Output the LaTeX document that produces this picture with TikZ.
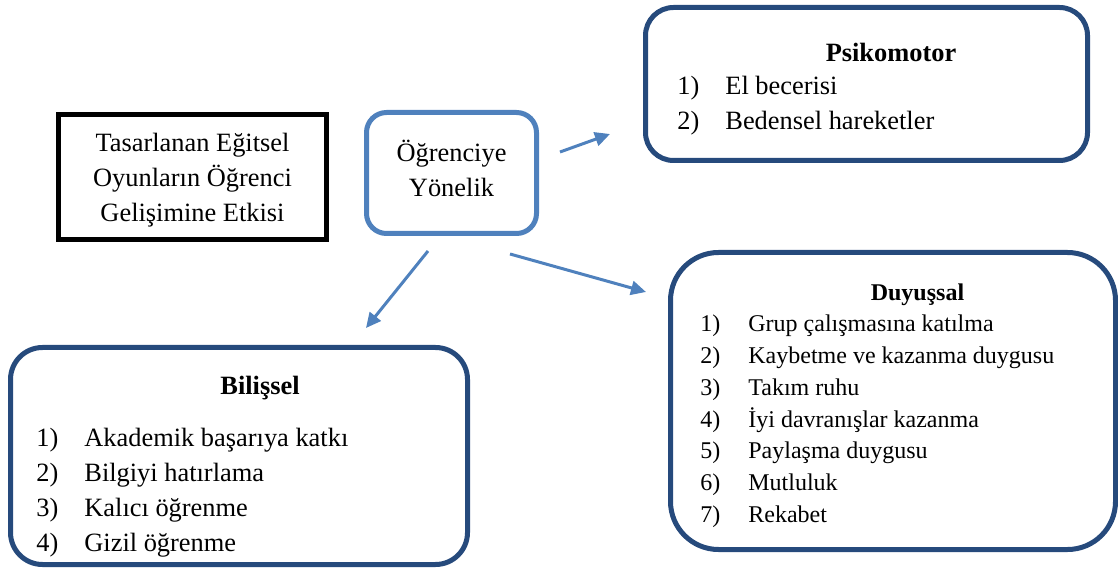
\documentclass[tikz,border=0pt]{standalone}
\usepackage{fontspec}
\setmainfont{Liberation Serif}
\usetikzlibrary{arrows.meta}
\definecolor{koyumavi}{RGB}{38,74,124}
\definecolor{acikmavi}{RGB}{79,129,189}
\newcommand{\sira}[1]{\makebox[24pt][l]{#1}}

\begin{document}
\begin{tikzpicture}[x=0.5pt, y=-0.5pt,
        kutu/.style={draw=koyumavi, line width=2.5pt, inner sep=0pt, outer sep=0pt},
        ok/.style={draw=acikmavi, line width=1.5pt, -{Triangle[length=7.5pt,width=7pt]}},
        buyuk/.style={font=\fontsize{13.2}{17.5}\selectfont},
        kucuk/.style={font=\fontsize{12}{15.8}\selectfont},
        madde/.style={anchor=base west, inner sep=0pt},
        baslik/.style={anchor=base, inner sep=0pt}]
        \useasboundingbox (0,0) rectangle (1118,571);

        % Kutular
        \node[draw=black, line width=2.5pt, inner sep=0pt, minimum width=134pt, minimum height=62.5pt] (ana) at (192.5,177) {};
        \node[draw=acikmavi, line width=2.5pt, rounded corners=10pt, inner sep=0pt, minimum width=85pt, minimum height=60.5pt] (ogr) at (451.5,173) {};
        \node[kutu, rounded corners=14pt, minimum width=221pt, minimum height=76.5pt] (psiko) at (866.5,84) {};
        \node[kutu, rounded corners=24pt, minimum width=222.5pt, minimum height=148.5pt] (duyus) at (893,401) {};
        \node[kutu, rounded corners=16pt, minimum width=228.5pt, minimum height=108.5pt] (bilis) at (239,456) {};

        \node[buyuk, baslik, align=center] (anametin) at (192.5,222) {Tasarlanan Eğitsel\\Oyunların Öğrenci\\Gelişimine Etkisi};
        \node[buyuk, baslik, align=center] (ogrmetin) at (451.5,197) {Öğrenciye\\Yönelik};

        \node[buyuk, baslik] (psikobas) at (891,62) {\textbf{Psikomotor}};
        \node[buyuk, madde] (p1) at (677,95) {\sira{1)}El becerisi};
        \node[buyuk, madde] (p2) at (677,130) {\sira{2)}Bedensel hareketler};

        \node[kucuk, baslik] (duyusbas) at (917.5,301) {\textbf{Duyuşsal}};
        \node[kucuk, madde] (d1) at (700,332) {\sira{1)}Grup çalışmasına katılma};
        \node[kucuk, madde] (d2) at (700,364) {\sira{2)}Kaybetme ve kazanma duygusu};
        \node[kucuk, madde] (d3) at (700,395) {\sira{3)}Takım ruhu};
        \node[kucuk, madde] (d4) at (700,427) {\sira{4)}İyi davranışlar kazanma};
        \node[kucuk, madde] (d5) at (700,458) {\sira{5)}Paylaşma duygusu};
        \node[kucuk, madde] (d6) at (700,490) {\sira{6)}Mutluluk};
        \node[kucuk, madde] (d7) at (700,522) {\sira{7)}Rekabet};

        \node[buyuk, baslik] (bilisbas) at (260,394) {\textbf{Bilişsel}};
        \node[buyuk, madde] (b1) at (36,446) {\sira{1)}Akademik başarıya katkı};
        \node[buyuk, madde] (b2) at (36,481) {\sira{2)}Bilgiyi hatırlama};
        \node[buyuk, madde] (b3) at (36,516) {\sira{3)}Kalıcı öğrenme};
        \node[buyuk, madde] (b4) at (36,551) {\sira{4)}Gizil öğrenme};

        % Oklar
        \coordinate (ok1bas) at (560,152);
        \coordinate (ok1uc) at (610,134);
        \coordinate (ok2bas) at (428,251);
        \coordinate (ok2uc) at (366,328);
        \coordinate (ok3bas) at (510,254);
        \coordinate (ok3uc) at (646,292);
        \draw[ok] (ok1bas) -- (ok1uc);
        \draw[ok] (ok2bas) -- (ok2uc);
        \draw[ok] (ok3bas) -- (ok3uc);
    \end{tikzpicture}
\end{document}
